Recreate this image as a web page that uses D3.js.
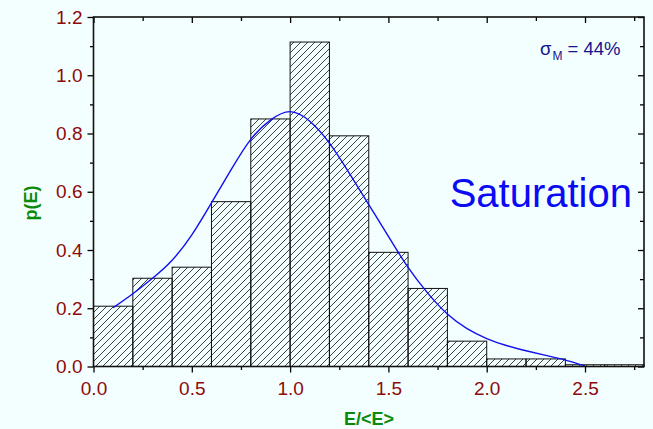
<!DOCTYPE html>
<html>
<head>
<meta charset="utf-8">
<script src="https://cdn.jsdelivr.net/npm/d3@7"></script>
<style>
  html, body { margin: 0; padding: 0; background: #F3FEFE; }
  svg { display: block; }
</style>
</head>
<body>
<svg id="chart" width="653" height="429"></svg>
<script>
// Histogram bins (left edges, width 0.2) and probability density
const binStarts = [0.0, 0.2, 0.4, 0.6, 0.8, 1.0, 1.2, 1.4, 1.6, 1.8, 2.0, 2.2, 2.4, 2.6];
const binDensity = [0.207, 0.303, 0.341, 0.566, 0.850, 1.114, 0.792, 0.392, 0.268, 0.087, 0.026, 0.026, 0.006, 0.006];
const binWidth = 0.2;

// Fitted distribution curve
const fitX = [0.1, 0.2, 0.3, 0.4, 0.5, 0.6, 0.7, 0.8, 0.9, 1.0, 1.1, 1.2, 1.3, 1.4, 1.5, 1.6, 1.7, 1.8, 1.9, 2.0, 2.1, 2.2, 2.3, 2.4, 2.5];
const fitY = [0.202, 0.250, 0.303, 0.365, 0.452, 0.562, 0.676, 0.780, 0.846, 0.875, 0.842, 0.767, 0.665, 0.556, 0.447, 0.340, 0.252, 0.180, 0.130, 0.096, 0.072, 0.054, 0.038, 0.022, 0.002];

const xTicks = [0.0, 0.5, 1.0, 1.5, 2.0, 2.5];
const yTicks = [0.0, 0.2, 0.4, 0.6, 0.8, 1.0, 1.2];
const xMinorTicks = [0.25, 0.75, 1.25, 1.75, 2.25, 2.75];
const yMinorTicks = [0.1, 0.3, 0.5, 0.7, 0.9, 1.1];

const xTitle = "E/<E>";
const yTitle = "p(E)";
const stateLabel = "Saturation";
const sigmaValue = "44%";

const svg = d3.select("#chart");
const plotLeft = 93.5, plotRight = 644, plotTop = 17, plotBottom = 366.5;

const x = d3.scaleLinear().domain([0, 2.8]).range([plotLeft, plotRight]);
const y = d3.scaleLinear().domain([0, 1.2]).range([plotBottom, plotTop]);

const fmt = d3.format(".1f");
const labelColor = "#8E0A0A";
const titleColor = "#0A8A0A";
const fontFamily = "Liberation Sans, Arial, sans-serif";

// Diagonal hatch fill for the bars
const defs = svg.append("defs");
const pat = defs.append("pattern")
  .attr("id", "hatch")
  .attr("patternUnits", "userSpaceOnUse")
  .attr("width", 7).attr("height", 7);
pat.append("path")
  .attr("d", "M0,7 L7,0 M-1,1 L1,-1 M6,8 L8,6")
  .attr("stroke", "#111")
  .attr("stroke-width", 0.8)
  .attr("fill", "none");

// Bars
const bins = binStarts.map((s, i) => ({ x0: s, x1: s + binWidth, v: binDensity[i] }));
svg.append("g").selectAll("rect")
  .data(bins)
  .enter().append("rect")
  .attr("x", d => x(d.x0))
  .attr("y", d => y(d.v))
  .attr("width", d => x(d.x1) - x(d.x0))
  .attr("height", d => y(0) - y(d.v))
  .attr("fill", "url(#hatch)")
  .attr("stroke", "#111")
  .attr("stroke-width", 1);

// Fit curve
const line = d3.line()
  .x(d => x(d[0]))
  .y(d => y(d[1]))
  .curve(d3.curveNatural);
svg.append("path")
  .datum(fitX.map((v, i) => [v, fitY[i]]))
  .attr("d", line)
  .attr("fill", "none")
  .attr("stroke", "#1010F0")
  .attr("stroke-width", 1.4);

// Axes: bottom and left with outward ticks, top and right with inward ticks
function styleAxis(g) {
  g.select(".domain").remove();
  g.selectAll(".tick line").attr("stroke", "#000").attr("stroke-width", 1.3);
}

const axisBottom = svg.append("g").attr("transform", `translate(0,${plotBottom})`)
  .call(d3.axisBottom(x).tickValues(xTicks).tickFormat(fmt).tickSize(6).tickPadding(9));
styleAxis(axisBottom);
axisBottom.selectAll("text").attr("fill", labelColor)
  .style("font-family", fontFamily).style("font-size", "19px");
svg.append("g").attr("transform", `translate(0,${plotBottom})`)
  .call(d3.axisBottom(x).tickValues(xMinorTicks).tickFormat("").tickSize(3.5))
  .call(styleAxis);

const axisLeft = svg.append("g").attr("transform", `translate(${plotLeft},0)`)
  .call(d3.axisLeft(y).tickValues(yTicks).tickFormat(fmt).tickSize(6).tickPadding(5));
styleAxis(axisLeft);
axisLeft.selectAll("text").attr("fill", labelColor)
  .style("font-family", fontFamily).style("font-size", "19px");
svg.append("g").attr("transform", `translate(${plotLeft},0)`)
  .call(d3.axisLeft(y).tickValues(yMinorTicks).tickFormat("").tickSize(3.5))
  .call(styleAxis);

svg.append("g").attr("transform", `translate(0,${plotTop})`)
  .call(d3.axisBottom(x).tickValues(xTicks).tickFormat("").tickSize(6))
  .call(styleAxis);
svg.append("g").attr("transform", `translate(0,${plotTop})`)
  .call(d3.axisBottom(x).tickValues(xMinorTicks).tickFormat("").tickSize(4))
  .call(styleAxis);
svg.append("g").attr("transform", `translate(${plotRight},0)`)
  .call(d3.axisLeft(y).tickValues(yTicks).tickFormat("").tickSize(6))
  .call(styleAxis);
svg.append("g").attr("transform", `translate(${plotRight},0)`)
  .call(d3.axisLeft(y).tickValues(yMinorTicks).tickFormat("").tickSize(4))
  .call(styleAxis);

// Frame
svg.append("rect")
  .attr("x", plotLeft).attr("y", plotTop)
  .attr("width", plotRight - plotLeft).attr("height", plotBottom - plotTop)
  .attr("fill", "none")
  .attr("stroke", "#111")
  .attr("stroke-width", 1.6);

// Axis titles
svg.append("text")
  .attr("x", 369).attr("y", 425)
  .attr("text-anchor", "middle")
  .attr("fill", titleColor)
  .style("font-family", fontFamily)
  .style("font-size", "18px").style("font-weight", "bold")
  .text(xTitle);

svg.append("text")
  .attr("transform", "translate(37,203) rotate(-90)")
  .attr("text-anchor", "middle")
  .attr("fill", titleColor)
  .style("font-family", fontFamily)
  .style("font-size", "18px").style("font-weight", "bold")
  .text(yTitle);

// Annotations
svg.append("text")
  .attr("x", 632).attr("y", 207)
  .attr("text-anchor", "end")
  .attr("fill", "#0A0AF5")
  .style("font-family", fontFamily)
  .style("font-size", "40px")
  .text(stateLabel);

const sig = svg.append("text")
  .attr("x", 540).attr("y", 55)
  .attr("fill", "#14148C")
  .style("font-family", fontFamily)
  .style("font-size", "18.5px");
sig.append("tspan").text("σ");
sig.append("tspan").attr("dx", 1).attr("dy", 5).style("font-size", "12px").text("M");
sig.append("tspan").attr("dy", -5).text(" = " + sigmaValue);
</script>
</body>
</html>
